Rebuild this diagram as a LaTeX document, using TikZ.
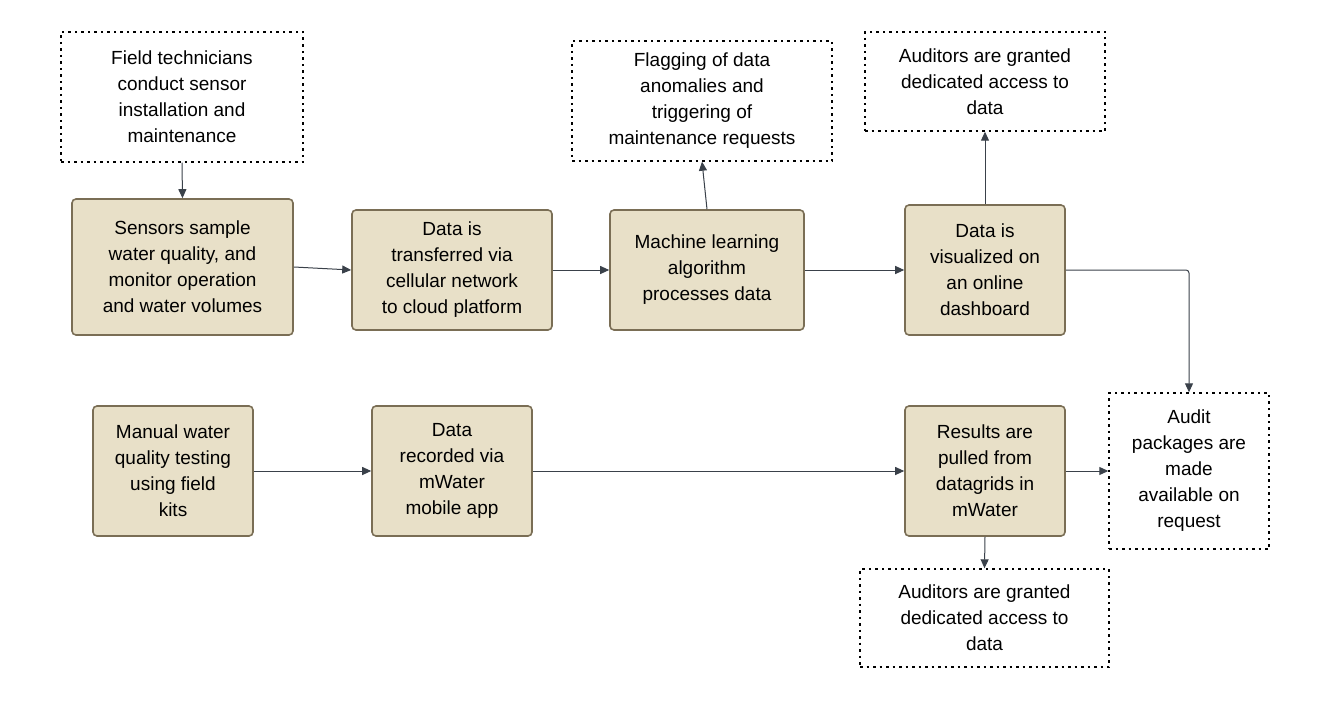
\documentclass[tikz,border=0pt]{standalone}
\usepackage{fontspec}
\setmainfont{Liberation Sans}
\usetikzlibrary{arrows.meta}
\definecolor{fillc}{HTML}{E8E0C8}
\definecolor{bord}{HTML}{7A6E55}
\definecolor{arr}{HTML}{3A414A}
\begin{document}
\begin{tikzpicture}[x=1pt,y=-1pt,
  proc/.style={draw=bord,fill=fillc,line width=1.6pt,rounded corners=4pt,align=center,font=\fontsize{19}{26}\selectfont,inner sep=0pt},
  note/.style={draw=black,dash pattern=on 2.5pt off 4pt,line width=1.4pt,align=center,font=\fontsize{19}{26}\selectfont,inner sep=0pt},
  ar/.style={draw=arr,line width=1pt,-{Triangle[length=9pt,width=8pt]}}]
\useasboundingbox (0,0) rectangle (1331,701);
\newcommand{\bx}[7]{\node[#1,minimum width=#4-#3,minimum height=#6-#5] (#2) at ({(#3+#4)/2},{(#5+#6)/2}) {#7};}
\bx{proc}{s1}{72}{293}{199}{335}{Sensors sample\\water quality, and\\monitor operation\\and water volumes}
\bx{proc}{d1}{352}{552}{210}{330}{Data is\\transferred via\\cellular network\\to cloud platform}
\bx{proc}{ml}{610}{804}{210}{330}{Machine learning\\algorithm\\processes data}
\bx{proc}{viz}{905}{1065}{205}{335}{Data is\\visualized on\\an online\\dashboard}
\bx{proc}{man}{93}{253}{406}{536}{Manual water\\quality testing\\using field\\kits}
\bx{proc}{rec}{372}{532}{406}{536}{Data\\recorded via\\mWater\\mobile app}
\bx{proc}{res}{905}{1065}{406}{536}{Results are\\pulled from\\datagrids in\\mWater}
\bx{note}{ft}{61}{303}{32}{162}{Field technicians\\conduct sensor\\installation and\\maintenance}
\bx{note}{flag}{572}{832}{41}{161}{Flagging of data\\anomalies and\\triggering of\\maintenance requests}
\bx{note}{aud1}{865}{1105}{32}{131}{Auditors are granted\\dedicated access to\\data}
\bx{note}{pkg}{1109}{1269}{393}{549}{Audit\\packages are\\made\\available on\\request}
\bx{note}{aud2}{860}{1109}{569}{667}{Auditors are granted\\dedicated access to\\data}
\draw[ar] (ft.south) -- (s1.north);
\draw[ar] (s1.east) -- (d1.west);
\draw[ar] (d1.east) -- (ml.west);
\draw[ar] (ml.north) -- (flag.south);
\draw[ar] (ml.east) -- (viz.west |- ml.east);
\draw[ar] (viz.north) -- (aud1.south);
\draw[ar,rounded corners=3pt] (viz.east) -- (pkg.north |- viz.east) -- (pkg.north);
\draw[ar] (man.east) -- (rec.west);
\draw[ar] (rec.east) -- (res.west);
\draw[ar] (res.east) -- (pkg.west |- res.east);
\draw[ar] (res.south) -- (aud2.north);
\end{tikzpicture}
\end{document}
